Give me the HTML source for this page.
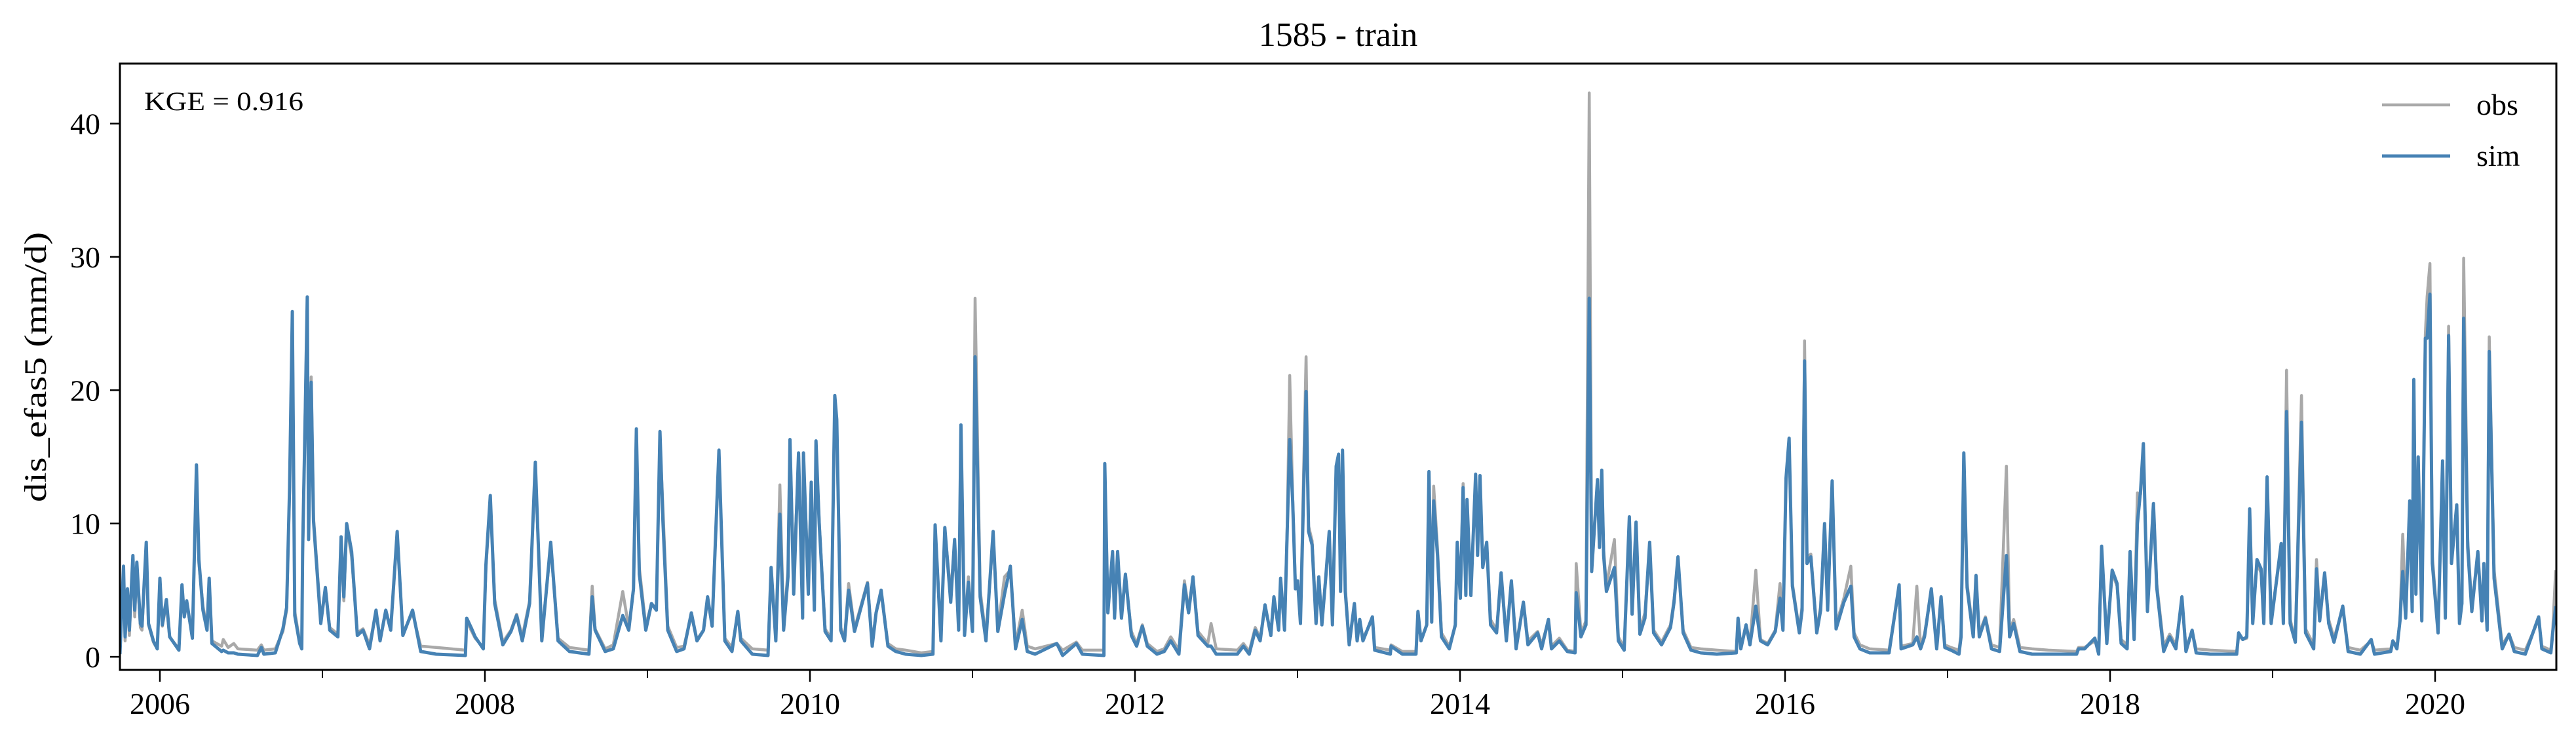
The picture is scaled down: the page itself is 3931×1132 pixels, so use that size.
<!DOCTYPE html>
<html><head><meta charset="utf-8"><style>
html,body{margin:0;padding:0;background:#fff;}
svg{display:block;font-family:"Liberation Serif",serif;}
</style></head><body>
<svg id="chart" width="3931" height="1132" viewBox="0 0 3931 1132" xmlns="http://www.w3.org/2000/svg">
<rect width="3931" height="1132" fill="#fff"/>
<text x="2042" y="70" font-size="52" text-anchor="middle" fill="#000">1585 - train</text>
<g id="plot"></g>
<g id="axes"></g>
<text x="0" y="0" transform="translate(70,560) rotate(-90)" font-size="48" text-anchor="middle" textLength="412" lengthAdjust="spacingAndGlyphs" fill="#000">dis_efas5 (mm/d)</text>
<text x="220" y="168" font-size="40" textLength="243" lengthAdjust="spacingAndGlyphs" fill="#000">KGE = 0.916</text>
<g>
<line x1="3635" y1="160" x2="3739" y2="160" stroke="#a9a9a9" stroke-width="4.5"/>
<text x="3779" y="175" font-size="46" fill="#000">obs</text>
<line x1="3635" y1="238" x2="3739" y2="238" stroke="#4682b4" stroke-width="5"/>
<text x="3779" y="253" font-size="46" fill="#000">sim</text>
</g>
</svg>
<script>
const dates=[2005.754,2005.776,2005.786,2005.800,2005.812,2005.834,2005.845,2005.858,2005.880,2005.890,2005.916,2005.930,2005.960,2005.984,2006.000,2006.015,2006.040,2006.060,2006.117,2006.136,2006.150,2006.165,2006.200,2006.225,2006.240,2006.265,2006.290,2006.303,2006.320,2006.380,2006.390,2006.420,2006.455,2006.480,2006.600,2006.624,2006.640,2006.710,2006.757,2006.780,2006.798,2006.815,2006.830,2006.860,2006.873,2006.878,2006.895,2006.907,2006.915,2006.931,2006.945,2006.990,2007.018,2007.045,2007.095,2007.115,2007.132,2007.149,2007.180,2007.215,2007.250,2007.290,2007.330,2007.355,2007.390,2007.420,2007.460,2007.495,2007.555,2007.605,2007.700,2007.880,2007.888,2007.915,2007.940,2007.990,2008.006,2008.033,2008.060,2008.110,2008.160,2008.195,2008.230,2008.275,2008.310,2008.350,2008.405,2008.450,2008.520,2008.640,2008.660,2008.678,2008.740,2008.790,2008.848,2008.885,2008.914,2008.932,2008.950,2008.990,2009.025,2009.055,2009.077,2009.095,2009.125,2009.180,2009.225,2009.270,2009.305,2009.345,2009.370,2009.398,2009.440,2009.476,2009.520,
2009.556,2009.575,2009.645,2009.742,2009.761,2009.790,2009.815,2009.838,2009.865,2009.877,2009.900,2009.930,2009.955,2009.960,2009.990,2010.008,2010.027,2010.037,2010.057,2010.093,2010.130,2010.153,2010.165,2010.189,2010.213,2010.238,2010.274,2010.354,2010.383,2010.407,2010.438,2010.480,2010.528,2010.588,2010.685,2010.757,2010.770,2010.806,2010.830,2010.866,2010.890,2010.915,2010.929,2010.951,2010.975,2011.000,2011.016,2011.047,2011.083,2011.127,2011.156,2011.197,2011.233,2011.265,2011.306,2011.337,2011.385,2011.519,2011.555,2011.639,2011.676,2011.809,2011.814,2011.833,2011.862,2011.874,2011.893,2011.917,2011.941,2011.978,2012.010,2012.045,2012.076,2012.135,2012.180,2012.220,2012.270,2012.304,2012.330,2012.357,2012.388,2012.448,2012.468,2012.500,2012.630,2012.667,2012.703,2012.740,2012.770,2012.800,2012.836,2012.855,2012.884,2012.896,2012.920,2012.937,2012.952,2012.970,2012.987,2013.001,2013.018,2013.053,2013.068,2013.090,2013.114,2013.131,2013.150,2013.174,2013.195,2013.215,
2013.238,2013.253,2013.265,2013.277,2013.294,2013.318,2013.350,2013.367,2013.383,2013.403,2013.461,2013.475,2013.571,2013.576,2013.645,2013.729,2013.741,2013.760,2013.795,2013.809,2013.826,2013.838,2013.862,2013.886,2013.934,2013.971,2013.983,2014.002,2014.019,2014.036,2014.043,2014.067,2014.096,2014.108,2014.123,2014.140,2014.164,2014.188,2014.225,2014.253,2014.285,2014.316,2014.345,2014.390,2014.418,2014.478,2014.502,2014.544,2014.563,2014.611,2014.660,2014.708,2014.715,2014.744,2014.775,2014.795,2014.810,2014.846,2014.858,2014.872,2014.884,2014.901,2014.950,2014.974,2015.010,2015.042,2015.059,2015.083,2015.107,2015.138,2015.167,2015.191,2015.240,2015.295,2015.317,2015.341,2015.373,2015.421,2015.481,2015.580,2015.700,2015.711,2015.728,2015.760,2015.784,2015.820,2015.849,2015.893,2015.940,2015.969,2015.987,2016.006,2016.025,2016.045,2016.088,2016.105,2016.120,2016.135,2016.159,2016.195,2016.219,2016.243,2016.262,2016.290,2016.314,2016.362,2016.405,2016.425,2016.461,2016.521,2016.640,2016.702,2016.714,2016.786,2016.811,2016.834,2016.858,
2016.900,2016.933,2016.960,2016.983,2017.021,2017.070,2017.083,2017.100,2017.120,2017.158,2017.175,2017.195,2017.233,2017.270,2017.320,2017.362,2017.382,2017.407,2017.445,2017.520,2017.620,2017.794,2017.806,2017.843,2017.906,2017.930,2017.948,2017.980,2018.013,2018.043,2018.068,2018.105,2018.123,2018.148,2018.168,2018.188,2018.205,2018.230,2018.267,2018.287,2018.330,2018.367,2018.405,2018.442,2018.467,2018.505,2018.530,2018.617,2018.779,2018.791,2018.816,2018.841,2018.859,2018.878,2018.904,2018.929,2018.946,2018.966,2018.991,2019.053,2019.066,2019.086,2019.108,2019.140,2019.178,2019.203,2019.253,2019.270,2019.290,2019.320,2019.345,2019.378,2019.432,2019.465,2019.540,2019.607,2019.627,2019.727,2019.740,2019.765,2019.784,2019.801,2019.819,2019.844,2019.859,2019.869,2019.882,2019.896,2019.918,2019.940,2019.951,2019.968,2019.983,2020.018,2020.046,2020.063,2020.083,2020.101,2020.133,2020.150,2020.165,2020.176,2020.201,2020.226,2020.263,2020.288,2020.300,2020.320,2020.333,2020.363,2020.413,2020.455,2020.487,2020.555,2020.637,2020.657,2020.712,2020.724,2020.742];
const simValues=[0.2,6.8,1.5,5.1,2.0,7.6,3.5,7.1,2.5,2.3,8.6,2.5,1.2,0.6,5.9,2.4,4.3,1.5,0.5,5.4,3.0,4.2,1.4,14.4,7.3,3.5,2.0,5.9,1.0,0.4,0.5,0.3,0.3,0.2,0.1,0.7,0.2,0.3,2.1,3.7,12.7,25.9,3.1,1.0,0.6,7.9,18.8,27.0,8.8,20.6,10.2,2.5,5.2,2.0,1.5,9.0,4.5,10.0,7.9,1.6,2.0,0.6,3.5,1.2,3.5,2.0,9.4,1.6,3.5,0.4,0.2,0.1,2.9,2.2,1.5,0.6,6.9,12.1,4.0,0.9,1.9,3.1,1.2,4.0,14.6,1.2,8.6,1.2,0.4,0.2,4.5,2.0,0.4,0.6,3.1,2.0,5.1,17.1,6.2,2.0,4.0,3.5,16.9,10.2,2.0,0.4,0.6,3.3,1.2,2.0,4.5,2.3,15.5,1.2,0.4,
3.4,1.2,0.2,0.1,6.7,1.2,10.7,2.0,6.0,16.3,4.7,15.3,2.9,15.3,4.7,13.1,3.5,16.2,10.0,1.9,1.2,19.6,17.8,2.0,1.2,5.0,1.9,5.5,0.8,3.3,5.0,0.8,0.4,0.2,0.1,0.2,9.9,1.2,9.7,4.1,8.8,2.0,17.4,1.6,5.6,1.9,22.5,4.5,1.2,9.4,1.9,4.7,6.8,0.6,2.8,0.4,0.2,1.0,0.1,1.0,0.2,0.1,14.5,3.3,7.9,2.9,7.9,2.9,6.2,1.6,0.8,2.3,0.8,0.2,0.4,1.2,0.2,5.4,3.3,6.0,1.6,0.8,0.8,0.2,0.2,0.8,0.2,2.0,1.2,3.9,1.6,4.5,2.0,5.9,2.0,9.6,16.3,11.7,5.1,5.7,2.5,19.9,9.4,8.4,2.5,6.0,2.4,6.0,9.4,2.4,
14.3,15.2,4.9,15.5,4.9,0.9,4.0,1.2,2.8,1.2,3.0,0.5,0.2,0.8,0.2,0.2,3.4,1.2,2.4,13.9,2.6,11.7,7.5,1.5,0.6,2.4,8.6,4.4,12.7,4.6,11.8,4.6,13.7,7.6,13.6,6.7,8.6,2.4,1.8,6.3,1.2,5.7,0.6,4.1,0.9,1.8,0.6,2.8,0.6,1.2,0.4,0.3,4.8,1.5,2.4,26.9,6.4,13.3,8.2,14.0,7.6,4.9,6.7,1.2,0.5,10.5,3.2,10.1,1.7,2.9,8.6,1.8,0.9,2.2,4.1,7.5,1.8,0.5,0.3,0.2,0.3,2.9,0.6,2.4,0.9,3.8,1.2,0.9,1.9,4.4,2.0,13.4,16.4,5.3,1.8,3.5,22.2,7.0,7.5,1.8,3.5,10.0,3.5,13.2,2.1,4.1,5.3,1.5,0.6,0.3,0.3,5.4,0.6,0.9,1.5,0.6,1.5,
5.1,0.6,4.5,0.7,0.5,0.2,1.5,15.3,5.2,1.5,6.1,1.5,2.9,0.6,0.4,7.6,1.5,2.5,0.4,0.2,0.2,0.2,0.6,0.6,1.4,0.2,8.3,1.0,6.5,5.5,1.0,0.6,7.9,1.3,10.0,12.5,16.0,3.4,11.5,5.2,0.4,1.5,0.6,4.5,0.4,2.0,0.3,0.2,0.2,1.8,1.3,1.5,11.1,2.5,7.3,6.6,2.5,13.5,2.5,8.5,2.5,18.4,2.5,1.1,17.6,1.8,0.6,6.6,2.7,6.3,2.5,1.1,3.8,0.4,0.2,1.3,0.2,0.4,1.2,0.6,2.7,6.4,2.9,11.7,3.4,20.8,4.7,15.0,2.7,23.9,23.9,27.2,7.0,1.8,14.7,2.9,24.1,7.0,11.4,2.5,4.0,25.4,8.2,3.4,7.9,2.7,7.0,2.0,22.9,5.9,0.6,1.7,0.4,0.2,3.0,0.6,0.3,1.8,3.8];
const obsValues=[0.3,6.5,1.2,4.8,1.6,7.3,3.0,6.8,2.2,2.0,8.4,2.4,1.1,0.6,5.8,2.3,4.0,1.5,0.6,5.2,3.0,4.0,1.5,14.0,7.0,3.8,2.2,5.7,1.2,0.8,1.3,0.7,1.0,0.6,0.5,0.9,0.5,0.6,1.9,3.5,12.4,25.6,3.4,1.2,0.8,7.6,19.0,26.5,9.3,21.0,10.5,2.8,5.0,2.2,1.7,8.6,4.2,9.8,7.5,1.8,2.1,0.9,3.3,1.4,3.3,2.1,9.2,1.8,3.3,0.8,0.7,0.5,2.7,2.0,1.4,0.7,6.6,11.8,4.3,1.1,2.0,3.2,1.5,4.2,14.3,1.5,8.3,1.4,0.7,0.5,5.3,2.1,0.6,0.9,4.9,2.2,5.0,16.6,6.7,2.3,4.0,3.6,16.4,11.2,2.3,0.7,0.8,3.1,1.3,2.0,4.4,2.5,15.2,1.4,0.7,
3.2,1.4,0.6,0.5,6.4,1.5,12.9,2.4,6.5,16.0,5.8,15.0,3.1,15.0,5.5,12.8,3.6,15.9,10.2,2.1,1.4,19.2,17.5,2.2,1.4,5.5,2.1,5.6,1.0,3.3,4.8,1.0,0.6,0.5,0.3,0.4,9.5,1.6,9.5,4.8,8.5,2.4,17.0,1.9,6.0,2.0,26.9,5.0,1.5,9.1,2.1,6.0,6.5,0.9,3.5,0.8,0.6,1.0,0.5,1.1,0.5,0.5,14.2,3.8,7.6,3.3,7.6,3.3,6.0,1.9,1.0,2.4,1.0,0.4,0.6,1.5,0.5,5.7,3.6,5.8,1.9,1.0,2.5,0.6,0.5,1.0,0.4,2.2,1.4,3.7,1.8,4.3,2.2,5.6,2.1,10.0,21.1,12.0,5.4,5.6,2.7,22.5,9.8,8.7,2.8,6.0,2.6,6.0,9.2,2.6,
14.0,14.9,5.1,15.2,5.2,1.1,3.8,1.4,2.6,1.4,2.8,0.7,0.5,0.9,0.4,0.4,3.2,1.3,2.4,13.7,2.9,12.8,8.0,1.8,0.8,2.3,8.4,4.5,13.0,4.7,11.4,4.9,13.4,7.8,13.3,7.1,8.4,2.8,2.0,6.0,1.5,5.5,0.9,4.0,1.2,1.9,0.9,2.7,0.8,1.4,0.5,0.4,7.0,1.8,2.7,42.3,6.9,13.0,9.0,13.7,8.0,5.3,8.8,1.5,0.7,10.2,3.4,9.8,2.0,3.3,8.3,2.0,1.1,2.4,4.3,7.2,2.0,0.7,0.6,0.5,0.4,2.8,0.8,2.2,1.0,6.5,1.3,1.0,2.0,5.5,2.3,13.1,16.2,5.5,2.0,3.8,23.7,7.5,7.7,2.0,3.8,9.8,3.8,12.9,2.4,4.4,6.8,1.8,0.9,0.6,0.5,5.2,0.8,1.0,5.3,0.8,1.7,
4.9,0.8,4.3,0.9,0.7,0.5,1.7,15.0,5.5,1.8,5.9,1.8,3.0,0.9,0.7,14.3,1.9,2.8,0.7,0.6,0.5,0.4,0.7,0.7,1.2,0.4,8.1,1.3,6.3,5.3,1.3,0.9,7.6,1.7,12.3,12.2,15.7,3.8,11.2,5.5,0.8,1.7,0.9,4.3,0.7,1.9,0.6,0.5,0.4,1.6,1.3,1.4,10.8,2.9,7.0,6.3,2.8,13.2,2.8,8.3,2.8,21.5,2.8,1.3,19.6,2.1,0.9,7.3,3.0,6.1,2.8,1.4,3.6,0.7,0.5,1.2,0.5,0.6,1.2,0.8,2.7,9.2,3.4,11.4,4.0,20.4,5.5,14.8,3.1,24.2,27.0,29.5,7.5,2.1,14.4,3.3,24.8,7.5,11.2,2.8,4.3,29.9,8.7,3.8,7.6,3.0,7.0,2.3,24.0,6.5,0.9,1.7,0.7,0.5,2.8,0.8,0.5,2.0,6.5];
const xTickYears=[2006,2008,2010,2012,2014,2016,2018,2020];
const xMinorYears=[2007,2009,2011,2013,2015,2017,2019];
const yTicks=[0,10,20,30,40];

const NS='http://www.w3.org/2000/svg';
const L=183,R=3901,T=97,B=1022;
const X0=2005.754,X1=2020.746,Y0=-0.98,Y1=44.5;
function xs(v){return L+(v-X0)/(X1-X0)*(R-L);}
function ys(v){return B-(v-Y0)/(Y1-Y0)*(B-T);}
function mk(tag,attrs,parent){const e=document.createElementNS(NS,tag);for(const k in attrs)e.setAttribute(k,attrs[k]);parent.appendChild(e);return e;}
const plot=document.getElementById('plot');
const axes=document.getElementById('axes');
const defs=mk('defs',{},plot);
const cp=mk('clipPath',{id:'clip'},defs);
mk('rect',{x:L,y:T,width:R-L,height:B-T},cp);
function pathD(vals){let d='';for(let i=0;i<dates.length;i++){d+=(i?'L':'M')+xs(dates[i]).toFixed(1)+' '+ys(vals[i]).toFixed(1);}return d;}
const obsLine=mk('path',{d:pathD(obsValues),fill:'none',stroke:'#a9a9a9','stroke-width':4.5,'stroke-linejoin':'round','clip-path':'url(#clip)'},plot);


const simLine=mk('path',{d:pathD(simValues),fill:'none',stroke:'#4682b4','stroke-width':5,'stroke-linejoin':'round','clip-path':'url(#clip)'},plot);


const frame=mk('rect',{x:L,y:T,width:R-L,height:B-T,fill:'none',stroke:'#000','stroke-width':3},axes);


xTickYears.forEach(yr=>{
  const x=xs(yr);
  const t=mk('line',{x1:x,y1:B,x2:x,y2:B+18,stroke:'#000','stroke-width':2.5},axes);
  
  
  const lb=mk('text',{x:x,y:B+67,'font-size':46,'text-anchor':'middle',fill:'#000'},axes);
  lb.textContent=yr;
  
  
});
xMinorYears.forEach(yr=>{
  const x=xs(yr);
  const t=mk('line',{x1:x,y1:B,x2:x,y2:B+12,stroke:'#000','stroke-width':2},axes);
  
  
});
yTicks.forEach(v=>{
  const y=ys(v);
  const t=mk('line',{x1:L-15,y1:y,x2:L,y2:y,stroke:'#000','stroke-width':2.5},axes);
  
  
  const lb=mk('text',{x:L-30,y:y+16,'font-size':46,'text-anchor':'end',fill:'#000'},axes);
  lb.textContent=v;
  
  
});
</script>
</body></html>
